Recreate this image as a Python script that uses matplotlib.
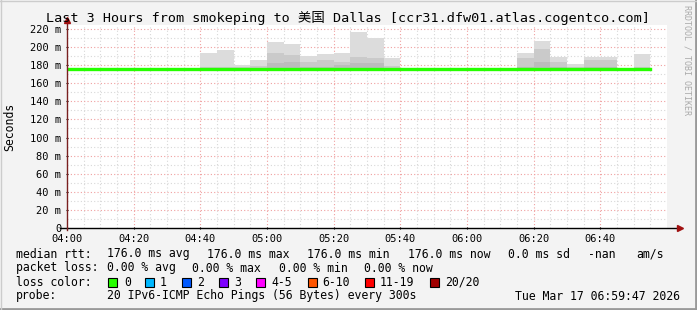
import matplotlib
matplotlib.use("Agg")
import matplotlib.pyplot as plt
from matplotlib.lines import Line2D
from matplotlib.patches import Rectangle

# 5 minute bins from 04:00, values in ms
bin_start = [5 * i for i in range(35)]
median = [176.0] * 35
smoke_max = [176, 176, 176, 176, 176, 176, 176, 176, 194, 197, 180, 186, 205.5, 203, 190, 192, 194, 217,
             209.5, 188, 176, 176, 176, 176, 176, 176, 176, 194, 207, 189, 181, 189, 189, 176, 192]
smoke_mid = [176, 176, 176, 176, 176, 176, 176, 176, 178, 178, 178, 179, 194, 191, 184, 186, 184, 189,
             188, 179, 176, 176, 176, 176, 176, 176, 176, 188, 197.5, 184, 178, 186, 186, 176, 178]
smoke_in = [176, 176, 176, 176, 176, 176, 176, 176, 176, 176, 176, 176, 182, 183, 178, 178, 180, 182,
            182, 176, 176, 176, 176, 176, 176, 176, 176, 178, 184, 178, 176, 178, 178, 176, 176]

x_ticks = [0, 20, 40, 60, 80, 100, 120, 140, 160]
x_labels = ["04:00", "04:20", "04:40", "05:00", "05:20", "05:40", "06:00", "06:20", "06:40"]
y_ticks = list(range(0, 221, 20))
y_labels = ["0"] + [f"{v} m" for v in y_ticks[1:]]

loss_labels = ["0", "1", "2", "3", "4-5", "6-10", "11-19", "20/20"]
loss_colors = ["#26ff00", "#00b8ff", "#0059ff", "#7e00ff", "#ff00ff", "#ff5500", "#ff0000", "#a10000"]

W, H = 697, 310
fig = plt.figure(figsize=(W / 100, H / 100), dpi=100)
fig.patch.set_facecolor("#f3f3f3")
ax = fig.add_axes([67 / W, (H - 228) / H, 600 / W, 203 / H])
ax.set_facecolor("white")
ax.set_xlim(0, 180)
ax.set_ylim(0, 224.4)
for s in ax.spines.values():
    s.set_visible(False)

mono = "DejaVu Sans Mono"

# grid
for m in range(5, 180, 5):
    c = "#f0a0a0" if m % 20 == 0 else "#d8d8d8"
    ax.axvline(m, color=c, lw=0.8, ls=(0, (1, 2)), zorder=1)
for v in range(10, 221, 10):
    c = "#f0a0a0" if v % 20 == 0 else "#d8d8d8"
    ax.axhline(v, color=c, lw=0.8, ls=(0, (1, 2)), zorder=1)

# smoke
for top, col in [(smoke_max, "#dcdcdc"), (smoke_mid, "#cacaca"), (smoke_in, "#bcbcbc")]:
    ax.bar(bin_start, [t - 176 for t in top], width=5, bottom=176, align="edge",
           color=col, linewidth=0, zorder=2)

# median line
ax.plot(bin_start + [175], median + [176], drawstyle="steps-post", color="#26ff00", lw=2.4, zorder=3)

# axes with arrows
ax.plot([-2, 183], [0, 0], color="black", lw=1, clip_on=False, zorder=4)
ax.plot([0, 0], [-2, 229], color="#7a2020", lw=1, clip_on=False, zorder=4)
ax.plot([184], [0], marker=">", color="#a01010", ms=5, clip_on=False, zorder=5)
ax.plot([0], [230], marker="^", color="#a01010", ms=5, clip_on=False, zorder=5)

ax.set_xticks(x_ticks)
ax.set_xticklabels(x_labels, fontfamily=mono, fontsize=7.5)
ax.set_yticks(y_ticks)
ax.set_yticklabels(y_labels, fontfamily=mono, fontsize=7.5)
ax.tick_params(length=2, width=0.8, color="black", pad=3, direction="inout")
ax.set_ylabel("Seconds", fontfamily=mono, fontsize=8.3, labelpad=10)

def px(x, y):
    return x / W, 1 - y / H

fig.text(*px(348, 18), "Last 3 Hours from smokeping to 美国 Dallas [ccr31.dfw01.atlas.cogentco.com]",
         family=[mono, "Noto Sans CJK SC"], fontsize=9.7, ha="center", va="center")
fig.text(*px(687, 5), "RRDTOOL / TOBI OETIKER", family=mono, fontsize=6, color="#aaaaaa",
         rotation=-90, ha="center", va="top")

rows = [
    (254, [(16, "median rtt:"), (107, "176.0 ms avg"), (207, "176.0 ms max"), (307, "176.0 ms min"),
           (408, "176.0 ms now"), (508, "0.0 ms sd"), (588, "-nan"), (636, "am/s")]),
    (268, [(16, "packet loss:"), (107, "0.00 % avg"), (192, "0.00 % max"), (279, "0.00 % min"),
           (364, "0.00 % now")]),
    (282, [(16, "loss color:")]),
    (296, [(16, "probe:"), (107, "20 IPv6-ICMP Echo Pings (56 Bytes) every 300s")]),
]
for y, items in rows:
    for x, s in items:
        fig.text(*px(x, y), s, family=mono, fontsize=8.3, ha="left", va="center")
fig.text(*px(680, 296), "Tue Mar 17 06:59:47 2026", family=mono, fontsize=8.3, ha="right", va="center")

sq_x = [108, 145, 182, 219, 256, 308, 365, 430]
lab_x = [124, 160, 197, 234, 271, 322, 380, 445]
for sx, lx, lab, col in zip(sq_x, lab_x, loss_labels, loss_colors):
    fig.add_artist(Rectangle(px(sx, 287), 9 / W, 9 / H, facecolor=col, edgecolor="black", lw=0.8))
    fig.text(*px(lx, 282), lab, family=mono, fontsize=8.3, ha="left", va="center")

# frame
fig.add_artist(Line2D([0, 1], [1 / H, 1 / H], color="#999999", lw=2))
fig.add_artist(Line2D([1 - 1 / W, 1 - 1 / W], [0, 1], color="#999999", lw=2))
fig.add_artist(Line2D([0, 1], [1 - 0.5 / H, 1 - 0.5 / H], color="#cccccc", lw=1))
fig.add_artist(Line2D([0.5 / W, 0.5 / W], [0, 1], color="#cccccc", lw=1))

fig.savefig("out.png", dpi=100, facecolor=fig.get_facecolor())
